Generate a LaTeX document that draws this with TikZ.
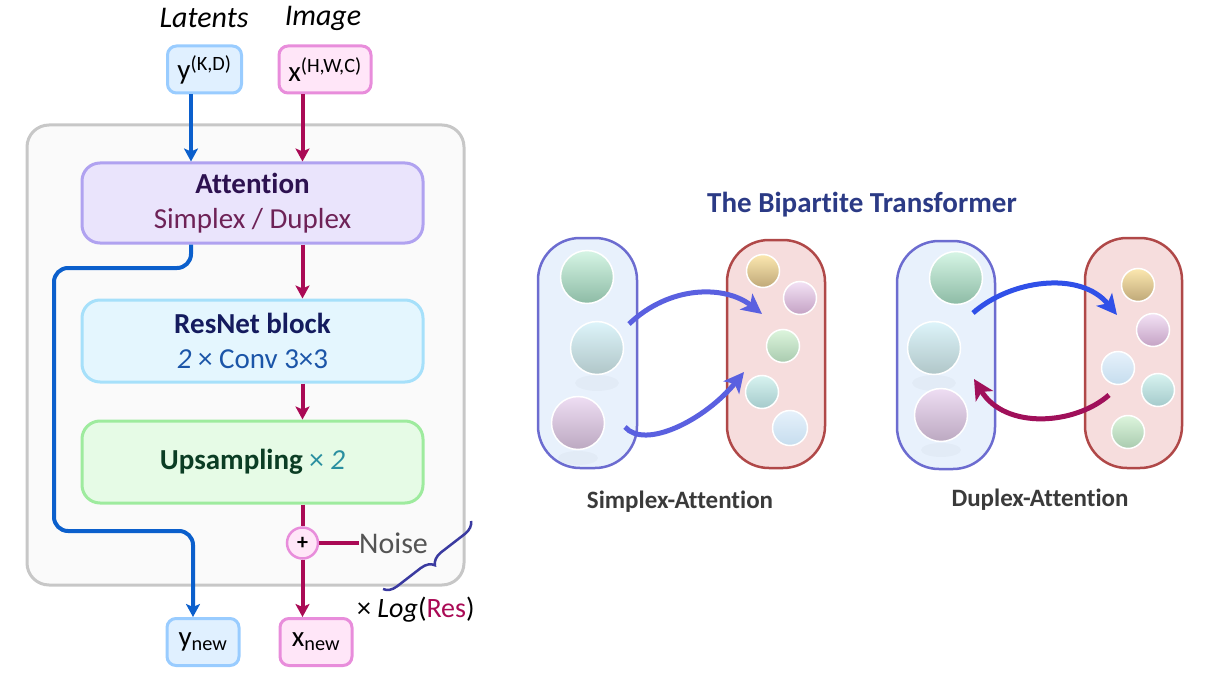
\documentclass[tikz,border=0pt]{standalone}
\usepackage{fontspec}
\setmainfont{Carlito}[Ligatures={NoCommon}]
\usetikzlibrary{arrows.meta,decorations.pathreplacing}
\definecolor{cblue}{HTML}{0B5FCC}
\definecolor{ccrim}{HTML}{AA0A55}
\definecolor{ylfill}{HTML}{E0F0FF}\definecolor{yldraw}{HTML}{99CCFF}
\definecolor{pkfill}{HTML}{FFE6F8}\definecolor{pkdraw}{HTML}{E88DDB}
\definecolor{atfill}{HTML}{EAE4FC}\definecolor{atdraw}{HTML}{B0A2F0}
\definecolor{rsfill}{HTML}{E4F6FE}\definecolor{rsdraw}{HTML}{A6E0FA}
\definecolor{upfill}{HTML}{E6FBE6}\definecolor{updraw}{HTML}{9EEB9E}
\definecolor{attxt}{HTML}{2D1150}\definecolor{sdtxt}{HTML}{6E2257}
\definecolor{rstxt}{HTML}{141B5E}\definecolor{cvtxt}{HTML}{1B55A8}
\definecolor{uptxt}{HTML}{0B3D24}\definecolor{x2txt}{HTML}{2A8FA0}
\definecolor{titletxt}{HTML}{2B3A85}\definecolor{labtxt}{HTML}{3A3A3A}
\definecolor{bracec}{HTML}{3A3AA0}
\definecolor{lpfill}{HTML}{E8F1FC}\definecolor{lpdraw}{HTML}{6C6CD0}
\definecolor{rpfill}{HTML}{F6DDDD}\definecolor{rpdraw}{HTML}{B04848}
\definecolor{sarrow}{HTML}{5A60E0}\definecolor{darrow}{HTML}{3050E8}
\definecolor{darrowb}{HTML}{A0105A}
% ball colours
\definecolor{gT}{HTML}{D6F5E5}\definecolor{gB}{HTML}{8DBBA5}
\definecolor{cT}{HTML}{DDF4FA}\definecolor{cB}{HTML}{B0C6C8}
\definecolor{pT}{HTML}{EEDDF3}\definecolor{pB}{HTML}{BCA9C1}
\definecolor{yT}{HTML}{FCE8B0}\definecolor{yB}{HTML}{BFA878}
\definecolor{vT}{HTML}{F3E2F5}\definecolor{vB}{HTML}{C4A2C4}
\definecolor{sgT}{HTML}{DDF5DD}\definecolor{sgB}{HTML}{A9CBAF}
\definecolor{tT}{HTML}{D8F3F0}\definecolor{tB}{HTML}{A4CACB}
\definecolor{lbT}{HTML}{E6F1FB}\definecolor{lbB}{HTML}{C6DDEE}
\tikzset{
  iobox/.style={draw, line width=3pt, rounded corners=9pt, inner sep=0pt, minimum height=47pt},
  yio/.style={iobox, fill=ylfill, draw=yldraw},
  xio/.style={iobox, fill=pkfill, draw=pkdraw},
  blk/.style={draw, line width=3pt, rounded corners=18pt, minimum width=341pt, align=center, inner sep=0pt},
  big/.style={font=\fontsize{29}{35}\selectfont},
  bluearr/.style={draw=cblue, line width=4pt, -{Stealth[length=13pt,width=14pt,inset=3pt]}},
  crimarr/.style={draw=ccrim, line width=4pt, -{Stealth[length=13pt,width=14pt,inset=3pt]}},
  pill/.style={draw, line width=2.5pt, rounded corners=42pt, inner sep=0pt},
  ball/.style={circle, draw=white, line width=1.5pt, inner sep=0pt, shading=axis, shading angle=15},
  refl/.style={fill=black, opacity=0.025},
  curvarr/.style={line width=5pt, -{Stealth[length=20pt,width=20pt,inset=5pt]}},
}
\begin{document}
\begin{tikzpicture}[x=1pt,y=-1pt]
\useasboundingbox (0,0) rectangle (1206,687);
% ---------- left: generator ----------
\node[draw=black!22, fill=black!2, line width=3pt, rounded corners=22pt, minimum width=437pt, minimum height=460pt] (outer) at (245.5,355) {};
\node[font=\fontsize{30}{35}\selectfont\itshape] (lat) at (204,18) {Latents};
\node[font=\fontsize{30}{35}\selectfont\itshape] (img) at (323,18) {Image};
\node[yio, minimum width=74pt, big] (yin) at (204.5,69.5) {y\textsuperscript{(K,D)}};
\node[xio, minimum width=92pt, big] (xin) at (325,69.5) {x\textsuperscript{(H,W,C)}};
\node[blk, fill=atfill, draw=atdraw, minimum height=80pt, big] (att) at (252.5,203)
  {\textcolor{attxt}{\textbf{Attention}}\\[0pt]\textcolor{sdtxt}{Simplex / Duplex}};
\node[blk, fill=rsfill, draw=rsdraw, minimum height=82pt, big] (res) at (252.5,341)
  {\textcolor{rstxt}{\textbf{ResNet block}}\\[0pt]\textcolor{cvtxt}{\textit{2} × Conv 3×3}};
\node[blk, fill=upfill, draw=updraw, minimum height=82pt, big] (ups) at (252.5,462)
  {\textcolor{uptxt}{\textbf{Upsampling}} \textcolor{x2txt}{× \textit{2}}};
\node[circle, draw=pkdraw, fill=pkfill, line width=2.5pt, minimum size=31pt, inner sep=0pt, font=\fontsize{22}{22}\selectfont\bfseries] (plus) at (302.5,543) {+};
\node[font=\fontsize{30}{35}\selectfont, text=black!67, anchor=west, inner sep=0pt] (noise) at (359,543) {Noise};
\node[yio, minimum width=72pt, big] (ynew) at (203,642) {y\textsubscript{new}};
\node[xio, minimum width=72pt, big] (xnew) at (316,642) {x\textsubscript{new}};
\node[font=\fontsize{28}{33}\selectfont, anchor=west, inner sep=0pt] (logres) at (357,610) {× \textit{Log}(\textcolor{ccrim}{Res})};
\coordinate (bl) at (191,0);
\coordinate (bl2) at (193,0);
\coordinate (c1) at (191,268);
\coordinate (c2) at (54,268);
\coordinate (c3) at (54,531);
\coordinate (c4) at (193,531);
\coordinate (br1) at (471,521);
\coordinate (br2) at (383,589);
\draw[bluearr] (yin.south -| bl) -- (att.north -| bl);
\draw[crimarr] (xin.south -| plus) -- (att.north -| plus);
\draw[crimarr] (att.south -| plus) -- (res.north -| plus);
\draw[crimarr] (res.south -| plus) -- (ups.north -| plus);
\draw[draw=ccrim, line width=4pt] (ups.south -| plus) -- (plus.north);
\draw[crimarr] (plus.south) -- (xnew.north -| plus);
\draw[draw=ccrim, line width=4pt] (plus.east) -- (noise.west);
\draw[bluearr, rounded corners=14pt] (att.south -| bl) -- (c1) -- (c2) -- (c3) -- (c4) -- (ynew.north -| bl2);
\draw[bracec, line width=2.5pt, decorate, decoration={brace, amplitude=13pt}] (br1) -- (br2);
% ---------- right: bipartite transformer ----------
\node[font=\fontsize{29}{34}\selectfont\bfseries, text=titletxt] (title) at (862,205) {The Bipartite Transformer};
% simplex
\node[pill, fill=lpfill, draw=lpdraw, minimum width=99pt, minimum height=230pt] (sl) at (587.5,353) {};
\node[pill, fill=rpfill, draw=rpdraw, minimum width=98pt, minimum height=228pt] (sr) at (776,354) {};
\fill[refl] (597,383) ellipse (22pt and 8pt);
\fill[refl] (578,458) ellipse (20pt and 7pt);
\node[ball, minimum size=53pt, top color=gT, bottom color=gB] (sa) at (587,277) {};
\node[ball, minimum size=53pt, top color=cT, bottom color=cB] (sb) at (597,348) {};
\node[ball, minimum size=53pt, top color=pT, bottom color=pB] (sc) at (578,423) {};
\node[ball, minimum size=33pt, top color=yT, bottom color=yB] (s1) at (763,271) {};
\node[ball, minimum size=33pt, top color=vT, bottom color=vB] (s2) at (800,298) {};
\node[ball, minimum size=33pt, top color=sgT, bottom color=sgB] (s3) at (783,346) {};
\node[ball, minimum size=33pt, top color=tT, bottom color=tB] (s4) at (762,392) {};
\node[ball, minimum size=35pt, top color=lbT, bottom color=lbB] (s5) at (790,428) {};
\coordinate (sa1) at (629,324);
\coordinate (sa2) at (762,314);
\coordinate (sb1) at (625,427);
\coordinate (sb2) at (744,372);
\draw[curvarr, sarrow] (sa1) .. controls (670,285) and (725,285) .. (sa2);
\draw[curvarr, sarrow] (sb1) .. controls (645,450) and (705,420) .. (sb2);
\node[font=\fontsize{25}{30}\selectfont\bfseries, text=labtxt] (slab) at (680,502) {Simplex-Attention};
% duplex
\node[pill, fill=lpfill, draw=lpdraw, minimum width=98pt, minimum height=228pt] (dl) at (946,355) {};
\node[pill, fill=rpfill, draw=rpdraw, minimum width=97pt, minimum height=230pt] (dr) at (1133.5,353) {};
\fill[refl] (934,383) ellipse (22pt and 8pt);
\fill[refl] (941,450) ellipse (20pt and 7pt);
\node[ball, minimum size=53pt, top color=gT, bottom color=gB] (da) at (956,278) {};
\node[ball, minimum size=53pt, top color=cT, bottom color=cB] (db) at (934,348) {};
\node[ball, minimum size=53pt, top color=pT, bottom color=pB] (dc) at (941,415) {};
\node[ball, minimum size=33pt, top color=yT, bottom color=yB] (d1) at (1138,285) {};
\node[ball, minimum size=33pt, top color=vT, bottom color=vB] (d2) at (1153,330) {};
\node[ball, minimum size=33pt, top color=lbT, bottom color=lbB] (d3) at (1118,368) {};
\node[ball, minimum size=33pt, top color=tT, bottom color=tB] (d4) at (1158,390) {};
\node[ball, minimum size=33pt, top color=sgT, bottom color=sgB] (d5) at (1128,432) {};
\coordinate (da1) at (973,313);
\coordinate (da2) at (1117,315);
\coordinate (db1) at (1109,395);
\coordinate (db2) at (974,379);
\draw[curvarr, darrow] (da1) .. controls (1010,280) and (1080,270) .. (da2);
\draw[curvarr, darrowb] (db1) .. controls (1075,425) and (1005,430) .. (db2);
\node[font=\fontsize{25}{30}\selectfont\bfseries, text=labtxt] (dlab) at (1040,500) {Duplex-Attention};
\end{tikzpicture}
\end{document}
